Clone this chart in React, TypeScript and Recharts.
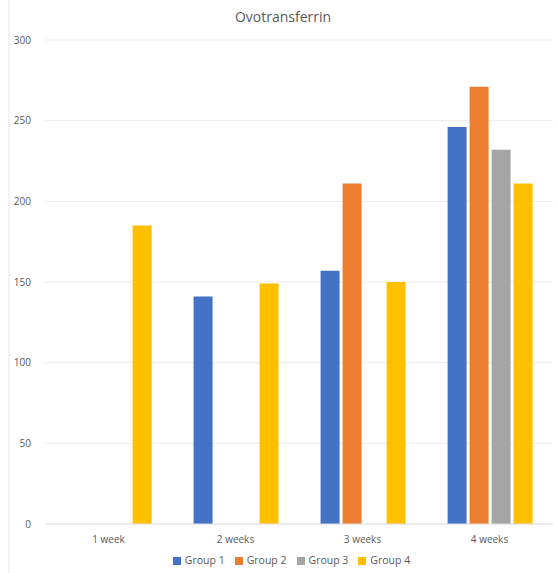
import React from 'react';
import { BarChart, Bar, XAxis, YAxis, CartesianGrid, Legend } from 'recharts';

const weeks = ['1 week', '2 weeks', '3 weeks', '4 weeks'];
const group1 = [null, 141, 157, 246];
const group2 = [null, null, 211, 271];
const group3 = [null, null, null, 232];
const group4 = [185, 149, 150, 211];
const yTicks = [0, 50, 100, 150, 200, 250, 300];

const data = weeks.map((week, i) => ({
  week,
  g1: group1[i],
  g2: group2[i],
  g3: group3[i],
  g4: group4[i],
}));

const font = '"Open Sans", "Liberation Sans", sans-serif';
const tick = { fontSize: 10, fill: '#595959', fontFamily: font };

const App: React.FC = () => {
  return (
    <div style={{ position: 'absolute', left: 0, top: 0, width: 558, height: 573, background: '#fff' }}>
      <div style={{ position: 'absolute', left: 8, top: 0, width: 2, height: 573, background: '#f2f2f2' }} />
      <div
        style={{
          position: 'absolute',
          top: 7,
          left: 0,
          width: 566,
          textAlign: 'center',
          fontFamily: font,
          fontSize: 14,
          color: '#595959',
        }}
      >
        Ovotransferrin
      </div>
      <BarChart
        width={558}
        height={573}
        data={data}
        margin={{ top: 40, right: 5, left: 0, bottom: 0 }}
        barGap={3}
        barCategoryGap="17%"
      >
        <CartesianGrid vertical={false} stroke="#ececec" />
        <XAxis
          dataKey="week"
          tick={tick}
          axisLine={{ stroke: '#e0e0e0' }}
          tickLine={false}
          tickMargin={6}
          height={24}
        />
        <YAxis
          domain={[0, 300]}
          ticks={yTicks}
          tick={tick}
          axisLine={false}
          tickLine={false}
          width={45}
          tickMargin={8}
        />
        <Legend
          verticalAlign="bottom"
          iconType="square"
          iconSize={8}
          height={25}
          wrapperStyle={{ fontFamily: font, fontSize: 10.5, color: '#595959', bottom: -5, left: 20 }}
          formatter={(v) => <span style={{ color: '#595959' }}>{v}</span>}
        />
        <Bar dataKey="g1" name="Group 1" fill="#4472C4" isAnimationActive={false} />
        <Bar dataKey="g2" name="Group 2" fill="#ED7D31" isAnimationActive={false} />
        <Bar dataKey="g3" name="Group 3" fill="#A5A5A5" isAnimationActive={false} />
        <Bar dataKey="g4" name="Group 4" fill="#FFC000" isAnimationActive={false} />
      </BarChart>
    </div>
  );
};

export default App;
